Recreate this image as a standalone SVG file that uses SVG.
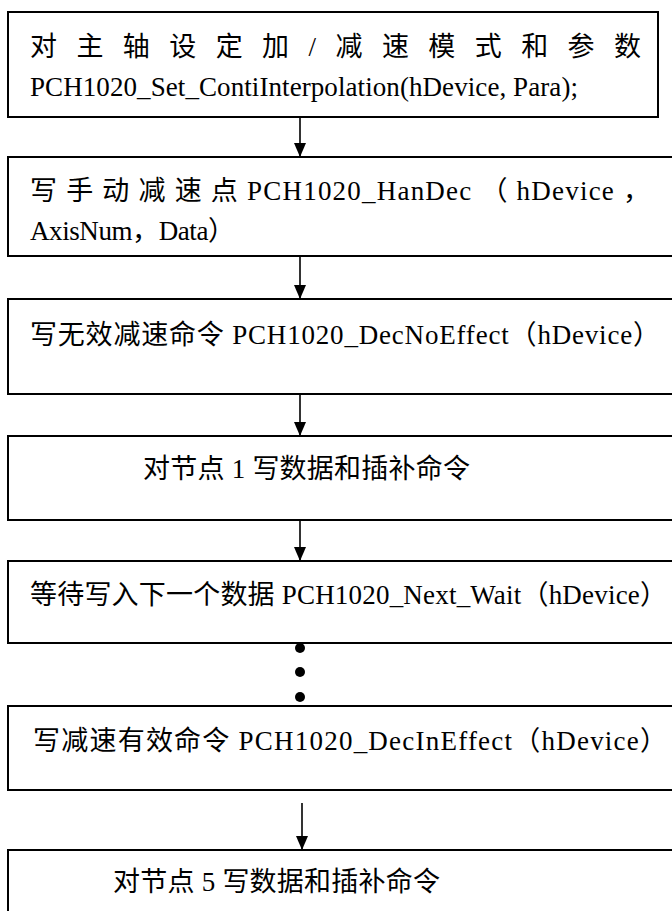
<svg xmlns="http://www.w3.org/2000/svg" width="672" height="911" viewBox="0 0 672 911">
<defs>
<marker id="ah" viewBox="0 0 14 12" refX="14" refY="6" markerWidth="14" markerHeight="12" markerUnits="userSpaceOnUse" orient="auto">
<path d="M0,0 L14,6 L0,12 Z" fill="#000"/>
</marker>
<style>
.box{fill:#fff;stroke:#000;stroke-width:2}
.t{font-family:"Liberation Serif","Noto Sans CJK SC",serif;font-size:27px;fill:#000}
.c{stroke:#000;stroke-width:1.6;fill:none}
</style>
</defs>
<rect width="672" height="911" fill="#fff"/>
<g id="n1">
<rect class="box" x="8" y="12" width="650" height="105"/>
<text class="t" x="30" y="56" textLength="611" lengthAdjust="spacing">对 主 轴 设 定 加 / 减 速 模 式 和 参 数</text>
<text class="t" x="30" y="96" textLength="548" lengthAdjust="spacing">PCH1020_Set_ContiInterpolation(hDevice, Para);</text>
</g>
<g id="n2">
<rect class="box" x="8" y="157" width="680" height="99"/>
<text class="t" x="30" y="200" textLength="620" lengthAdjust="spacing">写 手 动 减 速 点  PCH1020_HanDec （ hDevice ，</text>
<text class="t" x="30" y="240" textLength="205" lengthAdjust="spacing">AxisNum，Data）</text>
</g>
<g id="n3">
<rect class="box" x="8" y="299" width="680" height="95"/>
<text class="t" x="30" y="344" textLength="630" lengthAdjust="spacing">写无效减速命令 PCH1020_DecNoEffect（hDevice）</text>
</g>
<g id="n4">
<rect class="box" x="8" y="436" width="680" height="84"/>
<text class="t" x="143" y="478" textLength="327" lengthAdjust="spacing">对节点 1 写数据和插补命令</text>
</g>
<g id="n5">
<rect class="box" x="8" y="561" width="680" height="82"/>
<text class="t" x="30" y="604" textLength="637" lengthAdjust="spacing">等待写入下一个数据 PCH1020_Next_Wait（hDevice）</text>
</g>
<g id="n6">
<rect class="box" x="8" y="706" width="680" height="84"/>
<text class="t" x="33" y="750" textLength="634" lengthAdjust="spacing">写减速有效命令 PCH1020_DecInEffect（hDevice）</text>
</g>
<g id="n7">
<rect class="box" x="8" y="850" width="680" height="80"/>
<text class="t" x="113" y="891" textLength="327" lengthAdjust="spacing">对节点 5 写数据和插补命令</text>
</g>
<g id="connectors">
<line class="c" x1="300" y1="117" x2="300" y2="157" marker-end="url(#ah)"/>
<line class="c" x1="300" y1="256" x2="300" y2="299" marker-end="url(#ah)"/>
<line class="c" x1="300" y1="394" x2="300" y2="436" marker-end="url(#ah)"/>
<line class="c" x1="300" y1="520" x2="300" y2="561" marker-end="url(#ah)"/>
<circle cx="300" cy="648" r="5" fill="#000"/>
<circle cx="300" cy="672" r="5" fill="#000"/>
<circle cx="300" cy="697" r="5" fill="#000"/>
<line class="c" x1="302" y1="803" x2="302" y2="850" marker-end="url(#ah)"/>
</g>
</svg>
